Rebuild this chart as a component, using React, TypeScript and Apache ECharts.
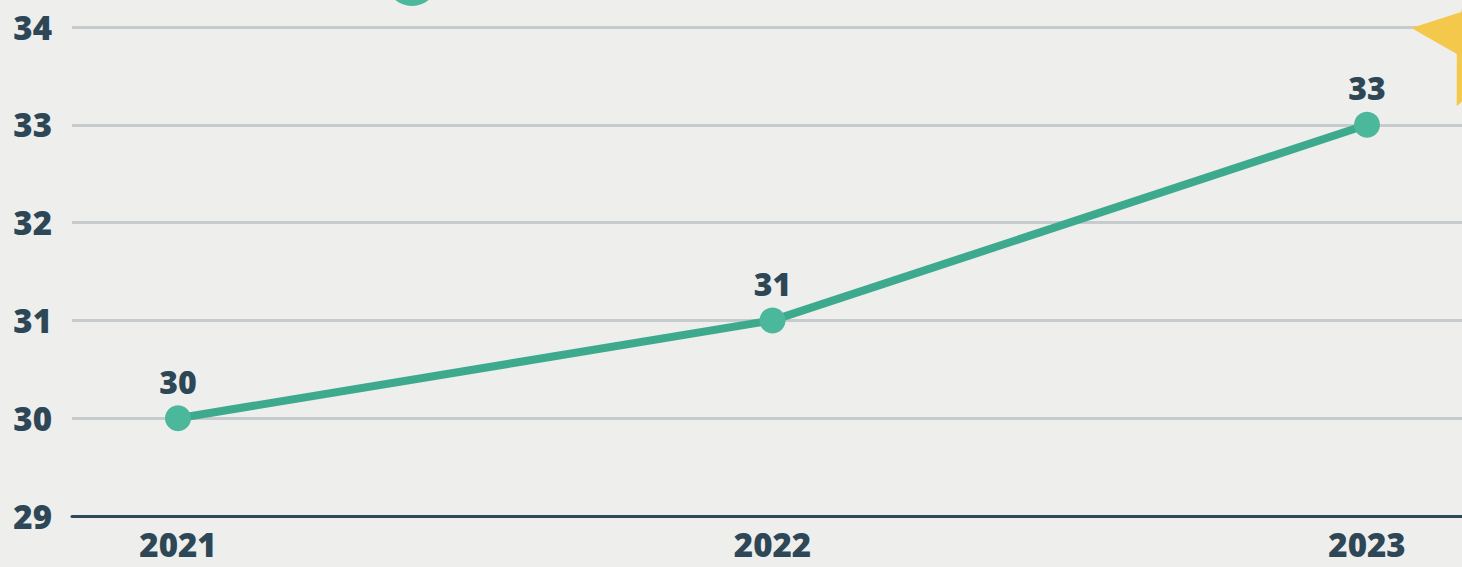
import React, { useEffect, useRef } from "react";
import * as echarts from "echarts";

const years = [2021, 2022, 2023];
const values = [30, 31, 33];
const yTicks = [29, 30, 31, 32, 33, 34];

function starPoints(cx: number, cy: number, R: number, r: number, startDeg: number): number[][] {
  const pts: number[][] = [];
  for (let i = 0; i < 10; i++) {
    const rad = ((startDeg + i * 36) * Math.PI) / 180;
    const rr = i % 2 === 0 ? R : r;
    pts.push([cx + rr * Math.cos(rad), cy + rr * Math.sin(rad)]);
  }
  return pts;
}

export default function App() {
  const ref = useRef<HTMLDivElement>(null);
  useEffect(() => {
    document.body.style.margin = "0";
    if (!ref.current) return;
    const chart = echarts.init(ref.current, undefined, { renderer: "svg" });
    const textColor = "#2d4756";
    const font = "'Open Sans', 'DejaVu Sans', sans-serif";
    chart.setOption({
      animation: false,
      backgroundColor: "#eeeeed",
      grid: { left: 72, right: 0, top: 27, bottom: 51, containLabel: false },
      xAxis: {
        type: "value",
        min: 2020.8217,
        max: 2023.1598,
        splitLine: { show: false },
        axisTick: { show: false },
        axisLine: { show: true, lineStyle: { color: "#2e4a5a", width: 3 } },
        axisLabel: {
          customValues: years,
          formatter: (v: number) => String(Math.round(v)),
          color: textColor,
          fontFamily: font,
          fontWeight: 800,
          fontSize: 33,
          margin: 12,
        },
      },
      yAxis: {
        type: "value",
        min: yTicks[0],
        max: yTicks[yTicks.length - 1],
        interval: 1,
        axisLine: { show: false },
        axisTick: { show: false },
        splitLine: { show: true, lineStyle: { color: "#c6cbce", width: 3 } },
        axisLabel: {
          color: textColor,
          fontFamily: font,
          fontWeight: 800,
          fontSize: 33,
          margin: 20,
        },
      },
      graphic: [
        {
          type: "circle",
          shape: { cx: 412, cy: -20, r: 26 },
          style: { fill: "#4cb89b" },
          z: 10,
        },
        {
          type: "polygon",
          shape: { points: starPoints(1488, 36, 77, 36, 186) },
          style: { fill: "#f4c84a" },
          z: 10,
        },
      ],
      series: [
        {
          type: "line",
          data: years.map((y, i) => [y, values[i]]),
          lineStyle: { color: "#3daa8e", width: 8 },
          itemStyle: { color: "#4cb89b" },
          symbol: "circle",
          symbolSize: 26,
          label: {
            show: true,
            position: "top",
            distance: 8,
            color: textColor,
            fontFamily: font,
            fontWeight: 800,
            fontSize: 32,
          },
        },
      ],
    });
    return () => chart.dispose();
  }, []);
  return <div ref={ref} style={{ width: 1462, height: 567 }} />;
}
